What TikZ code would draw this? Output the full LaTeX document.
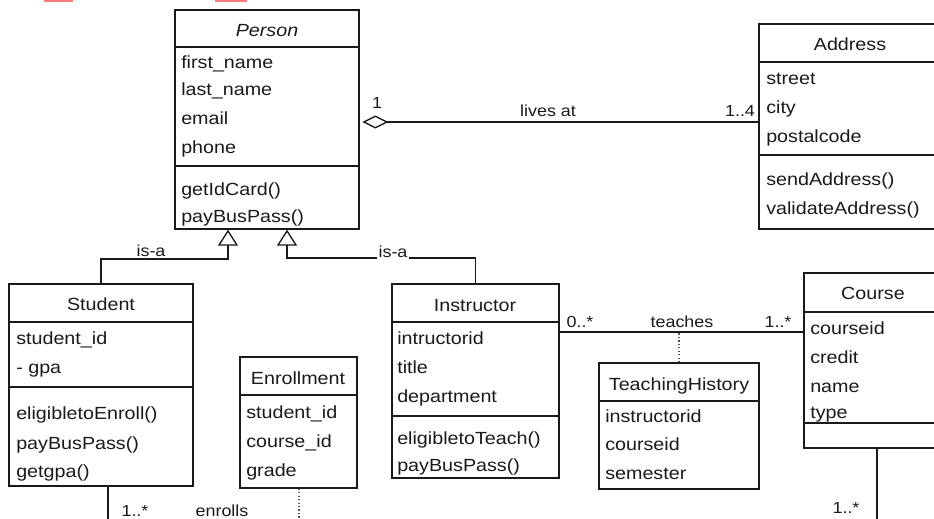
\documentclass[tikz,border=0pt]{standalone}
\usepackage{fontspec}
\setmainfont{Liberation Sans}[FakeStretch=1.12]
\usetikzlibrary{arrows.meta,fit}
\definecolor{ink}{HTML}{1A1A1A}
\definecolor{markred}{HTML}{FF7B7B}

\begin{document}
\begin{tikzpicture}[x=0.75pt,y=-0.75pt,
  cls/.style={draw=ink, line width=1pt, inner sep=0pt, fill=white, rectangle},
  sep/.style={draw=ink, line width=1pt},
  conn/.style={draw=ink, line width=1pt},
  note/.style={draw=ink!75, line width=1pt, dash pattern=on 1pt off 1.6pt},
  att/.style={anchor=west, inner sep=0pt, text height=0.72em, text depth=0pt,
    font=\fontsize{13.2}{15}\selectfont, text=ink, yshift=-1.4pt},
  ttl/.style={att, anchor=center},
  lab/.style={inner sep=0pt, text height=0.72em, text depth=0pt,
    font=\fontsize{12}{14}\selectfont, text=ink, yshift=-1.2pt},
  gen/.style={conn, -{Triangle[open, length=12pt, width=15pt]}},
  agg/.style={conn, {Diamond[open, length=19.5pt, width=9.75pt]}-, shorten <=2pt}
]
\useasboundingbox (0,0) rectangle (934,518);
\clip (0,0) rectangle (934,518);
\fill[white] (0,0) rectangle (934,518);

% small marks along the top edge
\fill[markred] (44,0) rectangle (73,2);
\fill[markred] (215,0) rectangle (247,2);

% ---------- class boxes ----------
\node[cls, fit={(175,10)(359,229)}] (person) {};
\draw[sep] (person.west |- 0,47) -- (person.east |- 0,47);
\draw[sep] (person.west |- 0,166) -- (person.east |- 0,166);

\node[cls, fit={(759,24)(942,229)}] (address) {};
\draw[sep] (address.west |- 0,62) -- (address.east |- 0,62);
\draw[sep] (address.west |- 0,155) -- (address.east |- 0,155);

\node[cls, fit={(9,284)(193,486)}] (student) {};
\draw[sep] (student.west |- 0,322) -- (student.east |- 0,322);
\draw[sep] (student.west |- 0,387) -- (student.east |- 0,387);

\node[cls, fit={(240,357)(357,488)}] (enrollment) {};
\draw[sep] (enrollment.west |- 0,395) -- (enrollment.east |- 0,395);

\node[cls, fit={(392,284)(559,478)}] (instructor) {};
\draw[sep] (instructor.west |- 0,322) -- (instructor.east |- 0,322);
\draw[sep] (instructor.west |- 0,416) -- (instructor.east |- 0,416);

\node[cls, fit={(599,363)(759,489)}] (teaching) {};
\draw[sep] (teaching.west |- 0,401) -- (teaching.east |- 0,401);

\node[cls, fit={(804,273)(942,448)}] (course) {};
\draw[sep] (course.west |- 0,312) -- (course.east |- 0,312);
\draw[sep] (course.west |- 0,423) -- (course.east |- 0,423);

% ---------- class texts ----------
\node[ttl, font=\fontsize{13.2}{15}\selectfont\itshape] (p-name) at (267,30) {Person};
\node[att] (p-a1) at (181,62) {first\_name};
\node[att] (p-a2) at (181,89) {last\_name};
\node[att] (p-a3) at (181,118) {email};
\node[att] (p-a4) at (181,147) {phone};
\node[att] (p-m1) at (181,189) {getIdCard()};
\node[att] (p-m2) at (181,216) {payBusPass()};

\node[ttl] (a-name) at (850,44) {Address};
\node[att] (a-a1) at (766,78) {street};
\node[att] (a-a2) at (766,107) {city};
\node[att] (a-a3) at (766,136) {postalcode};
\node[att] (a-m1) at (766,179) {sendAddress()};
\node[att] (a-m2) at (766,208) {validateAddress()};

\node[ttl] (s-name) at (101,304) {Student};
\node[att] (s-a1) at (16,338) {student\_id};
\node[att] (s-a2) at (16,367) {- gpa};
\node[att] (s-m1) at (16,413) {eligibletoEnroll()};
\node[att] (s-m2) at (16,443) {payBusPass()};
\node[att] (s-m3) at (16,471) {getgpa()};

\node[ttl] (e-name) at (298,378) {Enrollment};
\node[att] (e-a1) at (246,412) {student\_id};
\node[att] (e-a2) at (246,441) {course\_id};
\node[att] (e-a3) at (246,470) {grade};

\node[ttl] (i-name) at (475,305) {Instructor};
\node[att] (i-a1) at (397,338) {intructorid};
\node[att] (i-a2) at (397,367) {title};
\node[att] (i-a3) at (397,396) {department};
\node[att] (i-m1) at (397,438) {eligibletoTeach()};
\node[att] (i-m2) at (397,465) {payBusPass()};

\node[ttl] (t-name) at (679,384) {TeachingHistory};
\node[att] (t-a1) at (605,416) {instructorid};
\node[att] (t-a2) at (605,444) {courseid};
\node[att] (t-a3) at (605,473) {semester};

\node[ttl] (c-name) at (873,293) {Course};
\node[att] (c-a1) at (810,328) {courseid};
\node[att] (c-a2) at (810,357) {credit};
\node[att] (c-a3) at (810,386) {name};
\node[att] (c-a4) at (810,412) {type};

% ---------- connectors ----------
% aggregation Person -- Address
\coordinate (aggY) at (0,122);
\draw[agg] (person.east |- aggY) -- (address.west |- aggY);
\node[lab] (agg-m1) at (377,102) {1};
\node[lab] (agg-l) at (548,110) {lives at};
\node[lab] (agg-m2) at (740,110) {1..4};

% generalizations
\coordinate (g1) at (228,259);
\coordinate (g2) at (287,258);
\draw[gen] (student.north) |- (g1) -- (g1 |- person.south);
\draw[gen] (instructor.north) |- (g2) -- (g2 |- person.south);
\node[lab] (isa1) at (151,250) {is-a};
\node[lab, anchor=base, fill=white, inner xsep=1.5pt, text depth=0.3em, yshift=0pt] (isa2) at (393,256) {is-a};

% teaches association with its association class
\coordinate (tY) at (0,332);
\draw[conn] (instructor.east |- tY) -- (course.west |- tY);
\draw[note] (teaching.north) -- (teaching.north |- tY);
\node[lab] (t-m1) at (580,321) {0..*};
\node[lab] (t-l) at (682,321) {teaches};
\node[lab] (t-m2) at (778,321) {1..*};

% enrolls association (continues below)
\coordinate (enrEnd) at (108,540);
\coordinate (enrNote) at (299,540);
\coordinate (crsEnd) at (877,540);
\draw[conn] (student.south -| enrEnd) -- (enrEnd);
\draw[note] (enrollment.south -| enrNote) -- (enrNote);
\draw[conn] (course.south -| crsEnd) -- (crsEnd);
\node[lab] (enr-m1) at (135,510) {1..*};
\node[lab] (enr-l) at (222,510) {enrolls};
\node[lab] (enr-m2) at (846,507) {1..*};
\end{tikzpicture}
\end{document}
